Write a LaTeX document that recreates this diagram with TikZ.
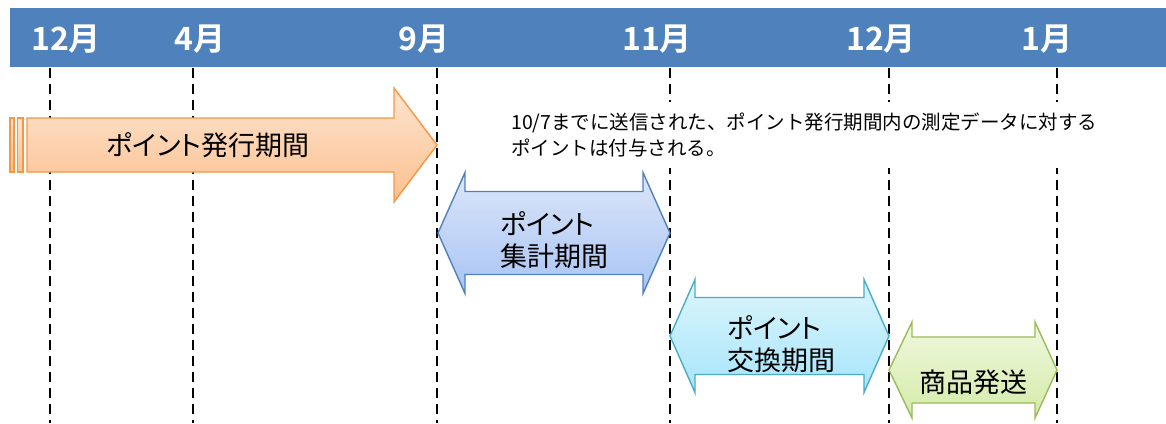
\documentclass[tikz,border=0pt]{standalone}
\usepackage{fontspec}
\newfontfamily\jp[RawFeature=+palt,BoldFont={* Bold}]{Noto Sans CJK JP}
\newfontfamily\jpw{Noto Sans CJK JP}
\definecolor{hdr}{HTML}{4F81BD}
\definecolor{orB}{HTML}{F79646}
\definecolor{orT}{HTML}{FDE4D0}
\definecolor{orD}{HTML}{FBC08E}
\definecolor{blB}{HTML}{4F81BD}
\definecolor{blT}{HTML}{DCE6F9}
\definecolor{blD}{HTML}{A8C4F4}
\definecolor{cyB}{HTML}{4BACC6}
\definecolor{cyT}{HTML}{DDF5FD}
\definecolor{cyD}{HTML}{A6E5FA}
\definecolor{grB}{HTML}{9BBB59}
\definecolor{grT}{HTML}{F0F8DF}
\definecolor{grD}{HTML}{D3EBA8}
\begin{document}
\begin{tikzpicture}[x=1pt,y=-1pt,
  mon/.style={text=white,font=\jp\bfseries\fontsize{32}{32}\selectfont,inner sep=0pt},
  dline/.style={black,line width=2.2pt,dash pattern=on 9.5pt off 6.5pt},
  lbl/.style={font=\jp\fontsize{27}{32}\selectfont,inner sep=0pt,align=left,text=black},
  note/.style={font=\jpw\fontsize{19.5}{26}\selectfont,inner xsep=6pt,inner ysep=11pt,align=left,fill=white,text=black},
  orarrow/.style={top color=orT,bottom color=orD,draw=orB,line width=1.4pt,line join=miter},
  blarrow/.style={top color=blT,bottom color=blD,draw=blB,line width=1.4pt},
  cyarrow/.style={top color=cyT,bottom color=cyD,draw=cyB,line width=1.4pt},
  grarrow/.style={top color=grT,bottom color=grD,draw=grB,line width=1.4pt}]
\useasboundingbox (0,0) rectangle (1166,423);
\fill[white] (0,0) rectangle (1166,423);
\fill[hdr] (10,8) rectangle (1166,67);
% month labels
\node[mon] (m1) at (66,39) {12月};
\node[mon] (m2) at (200,39) {4月};
\node[mon] (m3) at (424,39) {9月};
\node[mon] (m4) at (657,39) {11月};
\node[mon] (m5) at (881,39) {12月};
\node[mon] (m6) at (1047,39) {1月};
% dashed month lines
\foreach \x in {50,193,437,670,889,1057}
  \draw[dline] (\x,68) -- (\x,423);
% note
\node[note,anchor=west] (nt) at (505,135) {10/7までに送信された、ポイント発行期間内の測定データに対する\\ポイントは付与される。};
% orange striped arrow
\shade[orarrow] (10,118) rectangle (14,172);
\shade[orarrow] (17.5,118) rectangle (23,172);
\shade[orarrow] (27,118) -- (394,118) -- (394,88) -- (437,145) -- (394,202) -- (394,172) -- (27,172) -- cycle;
\node[lbl] (t1) at (208,145) {ポイント発行期間};
% blue double arrow
\shade[blarrow] (438,233) -- (465,172.5) -- (465,191.5) -- (643,191.5) -- (643,172.5) -- (670,233)
  -- (643,293.5) -- (643,274.5) -- (465,274.5) -- (465,293.5) -- cycle;
\node[lbl,anchor=west] (t2) at (500,240) {ポイント\\集計期間};
% cyan double arrow
\shade[cyarrow] (670,336) -- (695,279.5) -- (695,297.5) -- (864,297.5) -- (864,279.5) -- (889,336)
  -- (864,392.5) -- (864,374.5) -- (695,374.5) -- (695,392.5) -- cycle;
\node[lbl,anchor=west] (t3) at (727,344) {ポイント\\交換期間};
% green double arrow
\shade[grarrow] (889,370) -- (912,322) -- (912,337) -- (1035,337) -- (1035,322) -- (1057,370)
  -- (1035,418) -- (1035,403) -- (912,403) -- (912,418) -- cycle;
\node[lbl] (t4) at (973,382) {商品発送};
\end{tikzpicture}
\end{document}
